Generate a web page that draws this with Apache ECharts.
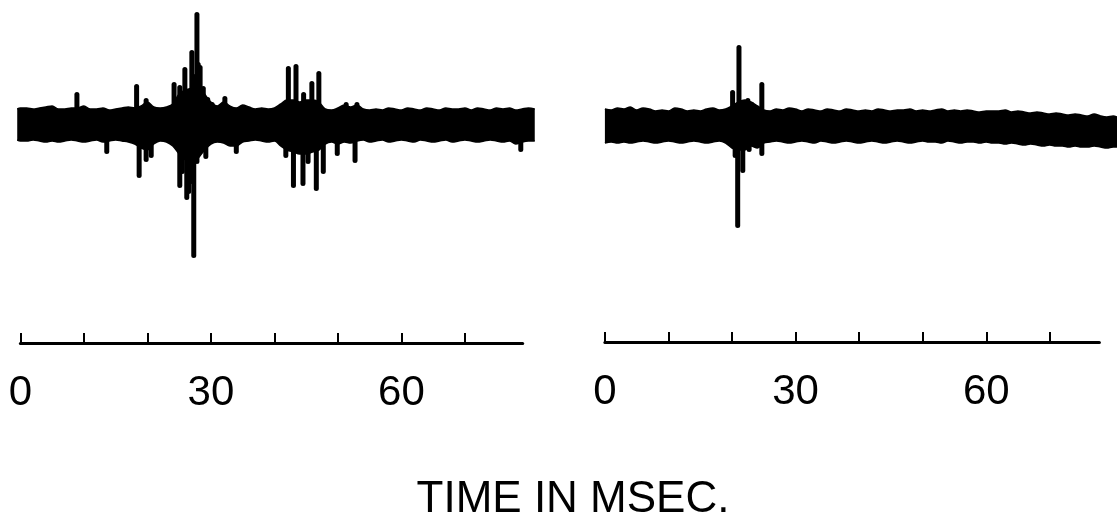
<!DOCTYPE html>
<html>
<head>
<meta charset="utf-8">
<script src="https://cdn.jsdelivr.net/npm/echarts@6.0.0/dist/echarts.min.js"></script>
<style>
  html, body { margin: 0; padding: 0; background: #fff; }
  #chart { width: 1117px; height: 519px; }
</style>
</head>
<body>
<div id="chart"></div>
<script>
// ---- Data (time in ms, amplitude in arbitrary units) ----
const leftTime = [-0.5,0,1,2,3,4,5,6,7,8,9,10,11,12,13,14,15,16,17,18,19,20,21,22,23,24,25,26,27,28,29,30,31,32,33,34,35,36,37,38,39,40,41,42,43,44,45,46,47,48,49,50,51,52,53,54,55,56,57,58,59,60,61,62,63,64,65,66,67,68,69,70,71,72,73,74,75,76,77,78,79,80,81];
const leftUpper = [15,16,16,15,16,17,18,15,15,16,16,18,15,15,16,14,15,16,17,16,18,22,17,16,17,20,30,34,36,38,30,22,18,22,18,16,19,17,15,16,15,16,20,24,24,22,24,24,22,15,14,16,19,17,19,15,14,15,14,16,15,14,16,15,14,16,15,14,16,15,15,16,14,16,15,14,16,15,16,14,15,16,15];
const leftLower = [-16,-17,-17,-16,-17,-18,-17,-18,-17,-16,-17,-18,-17,-16,-18,-17,-16,-17,-18,-20,-24,-26,-20,-17,-18,-22,-30,-36,-40,-34,-26,-20,-18,-19,-22,-22,-18,-17,-16,-17,-18,-17,-22,-26,-28,-30,-30,-28,-26,-20,-18,-20,-18,-19,-17,-16,-18,-17,-16,-18,-17,-16,-17,-18,-16,-17,-18,-17,-16,-18,-17,-16,-17,-18,-17,-16,-17,-18,-17,-20,-18,-17,-17];
const leftSpikeUpTime = [8.9,18.3,19.8,24.2,25.1,25.5,25.9,26.5,27.0,27.3,27.8,28.0,28.3,28.8,29.5,30.2,32.2,42.2,43.4,44.6,45.9,47.0,51.3,53.0];
const leftSpikeUpAmp  = [32,40,26,42,39,32,57,35,74,50,112,62,59,38,27,22,28,58,60,32,43,53,22,22];
const leftSpikeDownTime = [13.6,18.7,19.8,20.6,25.1,25.5,26.2,26.5,26.8,27.0,27.3,27.8,28.0,29.2,34.0,41.8,43.0,44.5,45.3,46.6,47.7,49.9,52.7,78.8];
const leftSpikeDownAmp  = [-30,-54,-38,-34,-64,-50,-76,-70,-45,-60,-134,-40,-26,-35,-30,-34,-64,-62,-40,-67,-50,-32,-39,-28];

const rightTime = [0,1,2,3,4,5,6,7,8,9,10,11,12,13,14,15,16,17,18,19,20,21,22,23,24,25,26,27,28,29,30,31,32,33,34,35,36,37,38,39,40,41,42,43,44,45,46,47,48,49,50,51,52,53,54,55,56,57,58,59,60,61,62,63,64,65,66,67,68,69,70,71,72,73,74,75,76,77,78,79,80,80.6];
const rightUpper = [17,16,18,17,19,16,18,17,15,16,15,18,17,15,16,15,17,18,16,17,20,24,26,24,20,16,15,17,16,18,17,15,17,16,15,17,16,15,17,16,15,16,15,17,16,15,16,16,17,15,16,15,16,17,15,16,15,16,15,14,15,15,15,16,14,15,14,13,14,13,12,13,12,11,12,11,10,12,10,9,10,9];
const rightLower = [-17,-16,-17,-16,-17,-16,-15,-16,-17,-16,-15,-16,-17,-16,-15,-16,-17,-16,-15,-17,-22,-24,-24,-20,-22,-17,-16,-15,-16,-17,-16,-15,-16,-17,-15,-16,-17,-16,-15,-16,-17,-16,-15,-16,-17,-16,-15,-16,-17,-16,-15,-16,-16,-17,-15,-16,-17,-16,-16,-17,-16,-17,-17,-18,-17,-18,-19,-18,-19,-20,-19,-20,-20,-21,-20,-21,-21,-20,-21,-22,-21,-21];
const rightSpikeUpTime = [20.1,21.1,22.5,23.1,24.7];
const rightSpikeUpAmp  = [36,81,28,24,44];
const rightSpikeDownTime = [20.5,20.9,21.7,22.7,24.7];
const rightSpikeDownAmp  = [-32,-102,-47,-26,-30];

const tickValues = [0,10,20,30,40,50,60,70];
const labelValues = [0,30,60];
const axisTitle = 'TIME IN MSEC.';

// ---- Build ----
const FONT = "'Liberation Sans', Arial, Helvetica, sans-serif";
const zip = (a, b) => a.map((v, i) => [v, b[i]]);

// Visible time axis (line, ticks, labels)
function timeAxis(gridIndex, maxVal) {
  return {
    type: 'value', gridIndex, min: 0, max: maxVal, interval: 10,
    position: 'bottom',
    axisLine: { show: true, onZero: false, lineStyle: { color: '#000', width: 3 } },
    axisTick: { show: true, inside: true, length: 10, customValues: tickValues, lineStyle: { color: '#000', width: 2 } },
    axisLabel: { show: true, margin: 29, customValues: labelValues, color: '#000', fontSize: 42, fontFamily: FONT },
    splitLine: { show: false }
  };
}
// Hidden time axis spanning the whole recorded trace
function traceAxis(gridIndex, minVal, maxVal) {
  return { type: 'value', gridIndex, min: minVal, max: maxVal, show: false, splitLine: { show: false } };
}
function ampAxis(gridIndex, maxVal, minVal) {
  return { type: 'value', gridIndex, min: minVal, max: maxVal, show: false, splitLine: { show: false } };
}
function envelope(idx, data) {
  return {
    type: 'line', xAxisIndex: idx, yAxisIndex: idx, data, showSymbol: false, symbol: 'none',
    smooth: 0.35, silent: true, animation: false,
    lineStyle: { color: '#000', width: 1.5 },
    areaStyle: { color: '#000', opacity: 1, origin: 0 }
  };
}
function spikes(idx, data) {
  return {
    type: 'bar', xAxisIndex: idx, yAxisIndex: idx, data, barWidth: 5,
    silent: true, animation: false,
    itemStyle: { color: '#000', borderRadius: 2.5 }
  };
}

const PX_L = 6.35, PX_R = 6.356;
const option = {
  backgroundColor: '#fff',
  animation: false,
  title: {
    text: axisTitle, left: 568, top: 473, textAlign: 'center',
    textStyle: { color: '#000', fontSize: 44, fontWeight: 'normal', fontFamily: FONT }
  },
  grid: [
    // 0: left trace
    { left: 20.4 - 0.5 * PX_L, width: 81.5 * PX_L, top: 0, height: 343 },
    // 1: left time axis
    { left: 20.4, width: 79.1 * PX_L, top: 0, height: 343 },
    // 2: right trace
    { left: 604.9, width: 80.6 * PX_R, top: 0, height: 342 },
    // 3: right time axis
    { left: 604.9, width: 77.8 * PX_R, top: 0, height: 342 }
  ],
  xAxis: [ traceAxis(0, -0.5, 81), timeAxis(1, 79.1), traceAxis(2, 0, 80.6), timeAxis(3, 77.8) ],
  yAxis: [ ampAxis(0, 124, -219), ampAxis(1, 124, -219), ampAxis(2, 126, -216), ampAxis(3, 126, -216) ],
  series: [
    envelope(0, zip(leftTime, leftUpper)),
    envelope(0, zip(leftTime, leftLower)),
    spikes(0, zip(leftSpikeUpTime, leftSpikeUpAmp).concat(zip(leftSpikeDownTime, leftSpikeDownAmp))),
    envelope(2, zip(rightTime, rightUpper)),
    envelope(2, zip(rightTime, rightLower)),
    spikes(2, zip(rightSpikeUpTime, rightSpikeUpAmp).concat(zip(rightSpikeDownTime, rightSpikeDownAmp)))
  ]
};

const chart = echarts.init(document.getElementById('chart'), null, { renderer: 'canvas' });
chart.setOption(option);
</script>
</body>
</html>
